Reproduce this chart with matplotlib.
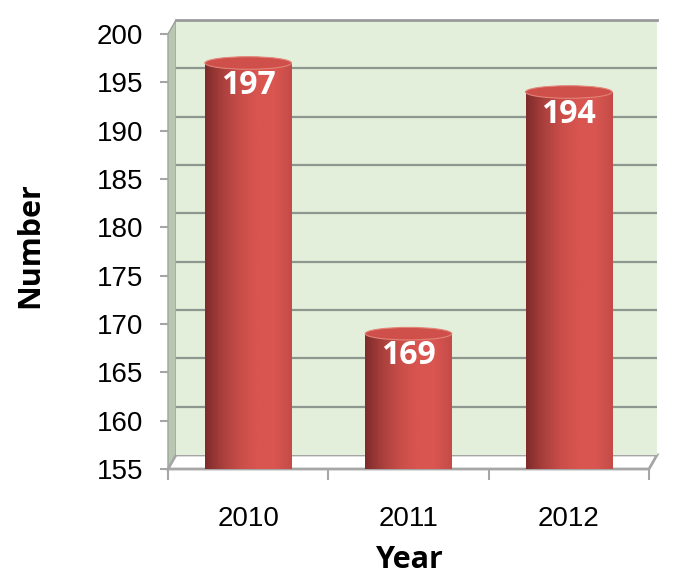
import numpy as np
import matplotlib.pyplot as plt
from matplotlib.patches import Ellipse, Polygon
from matplotlib.colors import LinearSegmentedColormap

years = ['2010', '2011', '2012']
counts = [197, 169, 194]
yticks = [155, 160, 165, 170, 175, 180, 185, 190, 195, 200]

W, H = 696, 583
fig = plt.figure(figsize=(W / 100, H / 100), dpi=100)
fig.patch.set_facecolor('white')

# front axes (px): x 168..649, y 155 at 469, 200 at 34
L, R, B, T = 168, 649, H - 469, H - 34
DX, DY = 8, 14  # depth offset of the back wall

# back wall
wall = fig.add_axes([(L + DX) / W, (B + DY) / H, (R - L) / W, (T - B) / H])
wall.set_facecolor('#e3efda')
wall.set_ylim(155, 200)
wall.set_xlim(0, 1)
for y in yticks[1:]:
    wall.axhline(y, color='#8e9690', lw=1.6)
wall.set_xticks([])
wall.set_yticks([])
for s in wall.spines.values():
    s.set_visible(False)
wall.spines['top'].set_visible(True)
wall.spines['top'].set_color('#9a9a9a')
wall.spines['top'].set_linewidth(2)

# side wall and floor in figure pixels
fig.patches.append(Polygon([[L / W, B / H], [(L + DX) / W, (B + DY) / H],
                            [(L + DX) / W, (T + DY) / H], [L / W, T / H]],
                           closed=True, transform=fig.transFigure, zorder=-1,
                           facecolor='#b9c7b2', edgecolor='#9aa59a', lw=1))
fig.patches.append(Polygon([[L / W, B / H], [(L + DX) / W, (B + DY) / H],
                            [(R + DX) / W, (B + DY) / H], [R / W, B / H]],
                           closed=True, transform=fig.transFigure, zorder=-1,
                           facecolor='white', edgecolor='#a6a6a6', lw=2))

ax = fig.add_axes([L / W, B / H, (R - L) / W, (T - B) / H])
ax.patch.set_alpha(0)
ax.set_ylim(155, 200)
ax.set_xlim(-0.5, 2.5)
ax.set_yticks(yticks)
ax.set_yticklabels([str(v) for v in yticks], fontsize=20, family='Liberation Sans')
ax.set_xticks([-0.5, 0.5, 1.5, 2.5], minor=True)
ax.set_xticks(range(3))
ax.set_xticklabels(years, fontsize=20, family='Liberation Sans')
ax.tick_params(axis='x', which='major', length=0, pad=27)
ax.tick_params(axis='x', which='minor', length=8, color='#a6a6a6', width=1.5)
ax.tick_params(axis='y', length=6, color='#a6a6a6', width=1.5, pad=12)
for s in ax.spines.values():
    s.set_visible(False)

cmap = LinearSegmentedColormap.from_list('cyl', ['#7e2b2a', '#a9403d', '#c94d49',
                                                 '#d9554f', '#d95651', '#c44b47'])
grad = np.linspace(0, 1, 256).reshape(1, -1)
bw = 0.54
eh = 1.3
for i, v in enumerate(counts):
    bars = ax.bar(i, v - 155, bottom=155, width=bw, color='#c94d49', lw=0, zorder=2)
    bot = Ellipse((i, 155), bw, eh, facecolor='#b8403d', lw=0, zorder=1.9)
    ax.add_patch(bot)
    img = ax.imshow(grad, cmap=cmap, aspect='auto', zorder=2.1,
                    extent=[i - bw / 2, i + bw / 2, 155 - eh / 2, v])
    img.set_clip_path(bars[0])
    img2 = ax.imshow(grad, cmap=cmap, aspect='auto', zorder=2.05,
                     extent=[i - bw / 2, i + bw / 2, 155 - eh / 2, 156])
    img2.set_clip_path(bot)
    ax.add_patch(Ellipse((i, v), bw, eh, facecolor='#cf4f4b', edgecolor='#e38478',
                         lw=0.8, zorder=2.3))
    ax.text(i, v - 2.3, str(v), ha='center', va='center', color='white',
            fontsize=23, fontweight='bold', family='Open Sans', zorder=3)

ax.set_aspect('auto')
ax.set_xlim(-0.5, 2.5)
ax.set_ylim(155, 200)

fig.text(30 / W, 1 - 245 / H, 'Number', rotation=90, ha='center', va='center',
         fontsize=22, fontweight='bold', family='Open Sans')
fig.text(410 / W, 1 - 560 / H, 'Year', ha='center', va='center',
         fontsize=22, fontweight='bold', family='Open Sans')

fig.savefig('out.png', dpi=100)
